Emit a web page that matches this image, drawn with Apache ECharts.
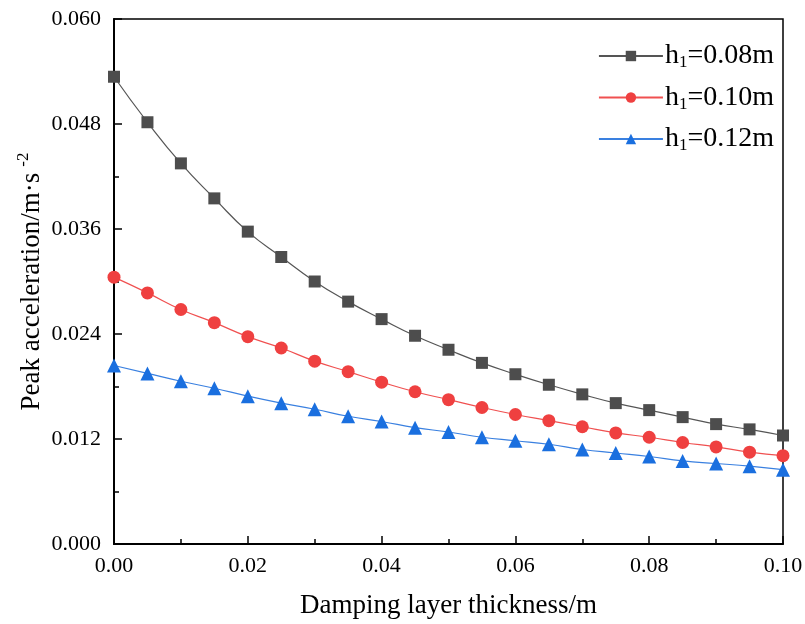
<!DOCTYPE html>
<html><head><meta charset="utf-8">
<script src="https://cdn.jsdelivr.net/npm/echarts@6/dist/echarts.min.js"></script>
<style>html,body{margin:0;padding:0;background:#fff}#c{width:805px;height:624px}</style>
</head><body><div id="c"></div>
<script>
var thickness = [0,0.005,0.01,0.015,0.02,0.025,0.03,0.035,0.04,0.045,0.05,0.055,0.06,0.065,0.07,0.075,0.08,0.085,0.09,0.095,0.1];
var h008 = [0.0534,0.0482,0.0435,0.0395,0.0357,0.0328,0.0300,0.0277,0.0257,0.0238,0.0222,0.0207,0.0194,0.0182,0.0171,0.0161,0.0153,0.0145,0.0137,0.0131,0.0124];
var h010 = [0.0305,0.0287,0.0268,0.0253,0.0237,0.0224,0.0209,0.0197,0.0185,0.0174,0.0165,0.0156,0.0148,0.0141,0.0134,0.0127,0.0122,0.0116,0.0111,0.0105,0.0101];
var h012 = [0.0204,0.0195,0.0186,0.0178,0.0169,0.0161,0.0154,0.0146,0.0140,0.0133,0.0128,0.0122,0.0118,0.0114,0.0108,0.0104,0.0100,0.0095,0.0092,0.0089,0.0085];
var seriesNames = ['h{s|1}=0.08m','h{s|1}=0.10m','h{s|1}=0.12m'];
var legendKeys = ['h1=0.08m','h1=0.10m','h1=0.12m'];
var colors = ['#4d4d4d','#ef4040','#1a6fdf'];
var lineColors = ['#555555','#f05050','#3a80e0'];
var symbols = ['rect','circle','triangle'];
var symbolSizes = [12,13,14];
var values = [h008,h010,h012];

function pairs(v){ return thickness.map(function(x,i){ return [x, v[i]]; }); }

var font = 'Liberation Serif, Times New Roman, serif';
var chart = echarts.init(document.getElementById('c'));
var series = values.map(function(v,i){
  return {
    name: legendKeys[i], type:'line', data: pairs(v), smooth: true,
    symbol: symbols[i], symbolSize: symbolSizes[i], showAllSymbol: true,
    itemStyle:{color: colors[i]}, lineStyle:{color: lineColors[i], width:1.2},
    clip: false, z: 3
  };
});
chart.setOption({
  animation:false,
  backgroundColor:'#fff',
  grid:{left:114, right:22, top:19, bottom:80, containLabel:false, outerBoundsMode:'none',
        show:true, borderColor:'#000', borderWidth:1.5},
  legend:{
    right: 26, top: 37, orient:'vertical', itemWidth:64, itemHeight:13, itemGap:12,
    data: legendKeys,
    formatter: function(n){ return seriesNames[legendKeys.indexOf(n)]; },
    textStyle:{fontFamily:font, fontSize:28, lineHeight:28, color:'#000', padding:[0,0,0,-3],
      rich:{s:{fontFamily:font, fontSize:17, color:'#000', padding:[14,0,0,0]}}}
  },
  xAxis:{
    type:'value', min:0, max:0.1, interval:0.02,
    name:'Damping layer thickness/m', nameLocation:'middle', nameGap:48, nameMoveOverlap:false,
    nameTextStyle:{fontFamily:font, fontSize:27, color:'#000'},
    axisLine:{onZero:false, lineStyle:{color:'#000', width:2}},
    axisTick:{inside:true, length:8, lineStyle:{color:'#000', width:1.5}},
    minorTick:{show:true, splitNumber:2, length:5, lineStyle:{color:'#000', width:1.5}},
    splitLine:{show:false},
    axisLabel:{fontFamily:font, fontSize:22, color:'#000', margin:11,
      formatter:function(v){ return v.toFixed(2); }}
  },
  yAxis:{
    type:'value', min:0, max:0.06, interval:0.012,
    name:'Peak acceleration/m·s{sup|-2}', nameLocation:'middle', nameGap:66, nameRotate:90, nameMoveOverlap:false,
    nameTextStyle:{fontFamily:font, fontSize:27, color:'#000',
      rich:{sup:{fontFamily:font, fontSize:17, color:'#000', padding:[0,0,16,6]}}},
    axisLine:{onZero:false, lineStyle:{color:'#000', width:2}},
    axisTick:{inside:true, length:8, lineStyle:{color:'#000', width:1.5}},
    minorTick:{show:true, splitNumber:2, length:5, lineStyle:{color:'#000', width:1.5}},
    splitLine:{show:false},
    axisLabel:{fontFamily:font, fontSize:22, color:'#000', margin:13,
      formatter:function(v){ return v.toFixed(3); }}
  },
  series: series
});
</script></body></html>
